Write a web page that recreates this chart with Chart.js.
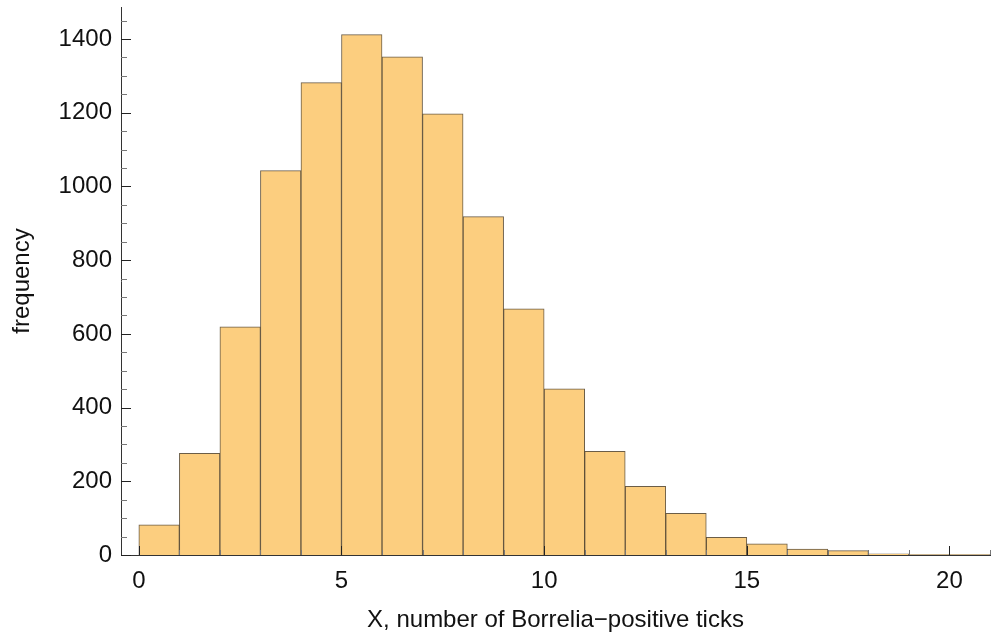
<!DOCTYPE html>
<html>
<head>
<meta charset="utf-8">
<script src="https://cdn.jsdelivr.net/npm/chart.js@4/dist/chart.umd.min.js"></script>
<style>
  html, body { margin: 0; padding: 0; background: #fff; }
  #wrap { width: 999px; height: 636px; position: relative; }
</style>
</head>
<body>
<div id="wrap"><canvas id="histChart"></canvas></div>
<script>
// Histogram bins (left edges, width 1) and counts
const binStarts = [0, 1, 2, 3, 4, 5, 6, 7, 8, 9, 10, 11, 12, 13, 14, 15, 16, 17, 18, 19, 20];
const counts = [82, 276, 619, 1043, 1282, 1412, 1352, 1197, 918, 668, 451, 281, 186, 113, 48, 30, 16, 12, 3, 1, 1];
const xTicks = [0, 5, 10, 15, 20];
const yTicks = [0, 200, 400, 600, 800, 1000, 1200, 1400];

const FONT = 'Liberation Sans, Arial, sans-serif';

/**
 * Draw Mathematica-style inward ticks on both axes
 */
const inwardTicks = {
  id: 'inwardTicks',
  afterDraw(chart) {
    const ctx = chart.ctx;
    const xs = chart.scales.x;
    const ys = chart.scales.y;
    const area = chart.chartArea;
    ctx.save();
    ctx.lineWidth = 1;
    // x axis: minor every 1, major every 5
    for (let v = 0; v <= 21; v++) {
      const px = Math.round(xs.getPixelForValue(v)) + 0.5;
      const len = v % 5 === 0 ? 9 : 5;
      ctx.strokeStyle = v % 5 === 0 ? '#222' : '#777';
      ctx.beginPath();
      ctx.moveTo(px, area.bottom);
      ctx.lineTo(px, area.bottom - len);
      ctx.stroke();
    }
    // y axis: minor every 50, major every 200
    for (let v = 0; v <= 1450; v += 50) {
      const py = Math.round(ys.getPixelForValue(v)) + 0.5;
      const len = v % 200 === 0 ? 10 : 6;
      ctx.strokeStyle = v % 200 === 0 ? '#222' : '#777';
      ctx.beginPath();
      ctx.moveTo(area.left, py);
      ctx.lineTo(area.left + len, py);
      ctx.stroke();
    }
    ctx.restore();
  }
};

const ctx = document.getElementById('histChart');

new Chart(ctx, {
  type: 'bar',
  data: {
    datasets: [{
      label: 'frequency',
      data: binStarts.map((s, i) => ({ x: s + 0.5, y: counts[i] })),
      backgroundColor: 'rgb(252, 206, 127)',
      borderColor: 'rgba(70, 52, 25, 0.8)',
      borderWidth: 1,
      borderSkipped: 'start',
      barPercentage: 1.0,
      categoryPercentage: 1.0
    }]
  },
  options: {
    responsive: true,
    maintainAspectRatio: false,
    animation: false,
    layout: {
      padding: { top: 7, right: 9, left: 0, bottom: 0 }
    },
    plugins: {
      legend: { display: false },
      tooltip: { enabled: false }
    },
    scales: {
      x: {
        type: 'linear',
        offset: false,
        min: -0.44,
        max: 21,
        grid: { display: false, drawTicks: false, offset: false },
        border: { display: true, color: '#333', width: 1 },
        afterBuildTicks: scale => {
          scale.ticks = xTicks.map(v => ({ value: v }));
        },
        afterFit: scale => {
          scale.height = 81;
          scale.paddingLeft = 0;
          scale.paddingRight = 0;
        },
        ticks: {
          color: '#111',
          padding: 12,
          maxRotation: 0,
          autoSkip: false,
          font: { family: FONT, size: 24 },
          callback: v => String(v)
        },
        title: {
          display: true,
          text: 'X, number of Borrelia\u2212positive ticks',
          color: '#111',
          font: { family: FONT, size: 24 },
          padding: { top: 0, bottom: 1 }
        }
      },
      y: {
        min: 0,
        max: 1487,
        grid: { display: false, drawTicks: false },
        border: { display: true, color: '#333', width: 1 },
        afterBuildTicks: scale => {
          scale.ticks = yTicks.map(v => ({ value: v }));
        },
        afterFit: scale => {
          scale.width = 121;
          scale.paddingTop = 0;
          scale.paddingBottom = 0;
        },
        ticks: {
          color: '#111',
          padding: 9,
          autoSkip: false,
          font: { family: FONT, size: 24 },
          callback: v => String(v)
        },
        title: {
          display: true,
          text: 'frequency',
          color: '#111',
          font: { family: FONT, size: 24 },
          padding: { top: 8, bottom: 0 }
        }
      }
    }
  },
  plugins: [inwardTicks]
});
</script>
</body>
</html>
